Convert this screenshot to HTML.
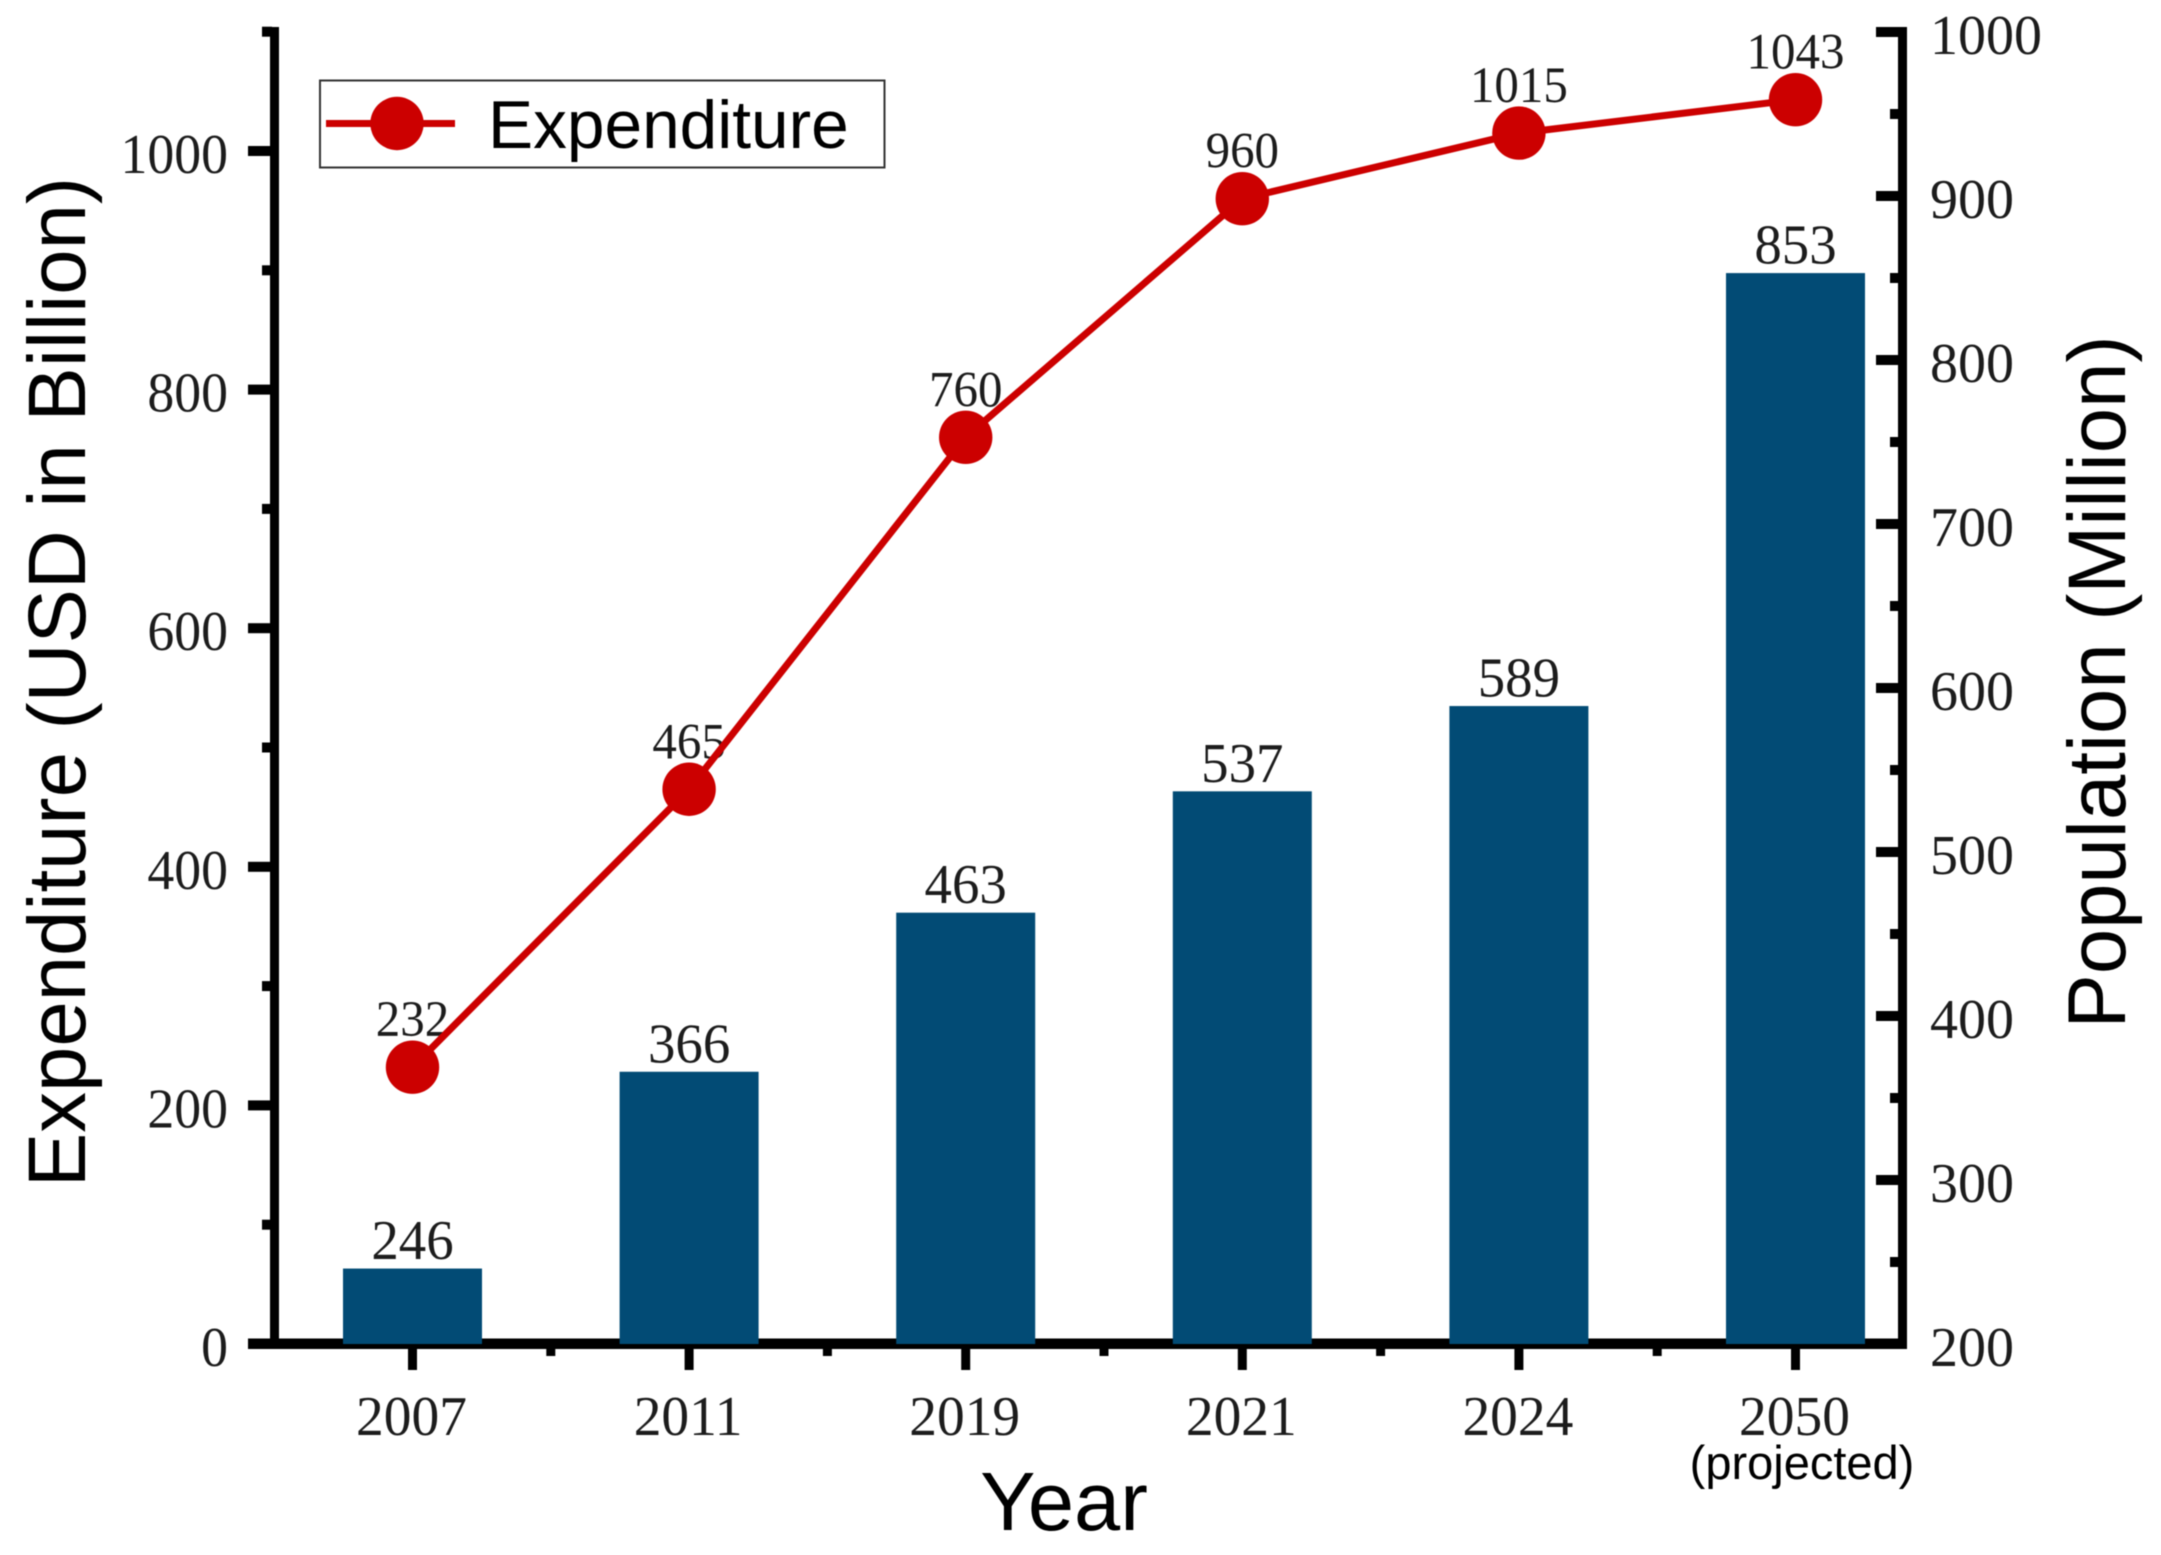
<!DOCTYPE html>
<html lang="en">
<head>
<meta charset="utf-8">
<title>Expenditure and Population</title>
<style>
html,body{margin:0;padding:0;background:#fff;width:2161px;height:1555px;overflow:hidden}
svg{display:block;filter:blur(0.5px)}
.sans{font-family:"Liberation Sans",Arial,sans-serif;fill:#000}
.serif{font-family:"Liberation Serif","Times New Roman",serif;fill:#1c1c1c}
</style>
</head>
<body>
<svg id="chart" xmlns="http://www.w3.org/2000/svg" width="2161" height="1555" viewBox="0 0 2161 1555">
  <rect x="0" y="0" width="2161" height="1555" fill="#fff"/>
  <g id="axes"></g>
  <g id="bars"></g>
  <g id="labels"></g>
  <g id="line"></g>
  <text class="sans" font-size="81.5" text-anchor="middle" transform="translate(85,682) rotate(-90)">Expenditure (USD in Billion)</text>
  <text class="sans" font-size="81.5" text-anchor="middle" transform="translate(2125,682) rotate(-90)">Population (Million)</text>
  <text class="sans" font-size="83" text-anchor="middle" x="1064" y="1530">Year</text>
  <text class="sans" font-size="47" text-anchor="middle" x="1802" y="1479">(projected)</text>
  <g>
    <rect x="320" y="80.5" width="564.5" height="87" fill="#fff" stroke="#333" stroke-width="2"/>
    <line x1="326" y1="123.5" x2="455" y2="123.5" stroke="#cc0000" stroke-width="7"/>
    <circle cx="397" cy="123.5" r="26.7" fill="#cc0000"/>
    <text class="sans" font-size="67.6" x="488" y="148">Expenditure</text>
  </g>
</svg>
<script>
const categories = ['2007', '2011', '2019', '2021', '2024', '2050'];
const population = [246, 366, 463, 537, 589, 853];
const expenditure = [232, 465, 760, 960, 1015, 1043];
const leftTicks = [0, 200, 400, 600, 800, 1000];
const leftMinorTicks = [100, 300, 500, 700, 900, 1100];
const rightTicks = [200, 300, 400, 500, 600, 700, 800, 900, 1000];
const rightMinorTicks = [250, 350, 450, 550, 650, 750, 850, 950];

const NS = 'http://www.w3.org/2000/svg';
const axesG = document.getElementById('axes');
const barsG = document.getElementById('bars');
const labelsG = document.getElementById('labels');
const lineG = document.getElementById('line');

const BASE_Y = 1344;
function xPos(i) { return 412.5 + i * 276.6; }
function yLeft(v) { return BASE_Y - v * 1.193; }
function yRight(v) { return BASE_Y - (v - 200) * 1.64; }

function makeRect(parent, x, y, w, h, fill) {
  const r = document.createElementNS(NS, 'rect');
  r.setAttribute('x', x);
  r.setAttribute('y', y);
  r.setAttribute('width', w);
  r.setAttribute('height', h);
  r.setAttribute('fill', fill);
  parent.appendChild(r);
  return r;
}
function makeText(parent, str, x, y, size, anchor, sx) {
  const t = document.createElementNS(NS, 'text');
  t.setAttribute('class', 'serif');
  t.setAttribute('font-size', size);
  t.setAttribute('text-anchor', anchor);
  t.setAttribute('transform', 'translate(' + x + ',' + y + ') scale(' + sx + ',1)');
  t.textContent = str;
  parent.appendChild(t);
  return t;
}

// axis spines
const leftSpine = makeRect(axesG, 270, 27, 9, 1322, '#000');


const rightSpine = makeRect(axesG, 1898, 27, 9, 1322, '#000');


const bottomSpine = makeRect(axesG, 248, 1338.5, 1659, 10.5, '#000');



// left axis ticks
leftTicks.forEach(function (v) {
  const y = yLeft(v);
  const tick = makeRect(axesG, 248, y - 5, 24, 10, '#000');
  
  
  const label = makeText(axesG, String(v), 228, y + 22, 56, 'end', 0.96);
  
  
});
leftMinorTicks.forEach(function (v) {
  const y = yLeft(v);
  const tick = makeRect(axesG, 262, y - 5, 10, 10, '#000');
  
  
});

// right axis ticks
rightTicks.forEach(function (v) {
  const y = yRight(v);
  const tick = makeRect(axesG, 1876, y - 5, 24, 10, '#000');
  
  
  const label = makeText(axesG, String(v), 1930, y + 22, 56, 'start', 1.0);
  
  
});
rightMinorTicks.forEach(function (v) {
  const y = yRight(v);
  const tick = makeRect(axesG, 1890, y - 5, 10, 10, '#000');
  
  
});

// x axis ticks
categories.forEach(function (c, i) {
  const x = xPos(i);
  const tick = makeRect(axesG, x - 4.5, 1345, 9, 25, '#000');
  
  
  const label = makeText(axesG, c, x - 1, 1435, 56, 'middle', 0.99);
  
  
  if (i < categories.length - 1) {
    const minor = makeRect(axesG, x + 138.3 - 4.5, 1345, 9, 11, '#000');
    
    
  }
});

// bars
population.forEach(function (v, i) {
  const top = yRight(v);
  const bar = makeRect(barsG, xPos(i) - 69.5, top, 139, BASE_Y - top, '#024b75');
  
  
  const label = makeText(labelsG, String(v), xPos(i), top - 9.5, 56, 'middle', 0.98);
  
  
});

// expenditure labels
expenditure.forEach(function (v, i) {
  const label = makeText(labelsG, String(v), xPos(i), yLeft(v) - 31, 51, 'middle', 0.96);
  
  
});

// expenditure line and markers
const polyline = document.createElementNS(NS, 'polyline');


polyline.setAttribute('fill', 'none');
polyline.setAttribute('stroke', '#cc0000');
polyline.setAttribute('stroke-width', '7');
polyline.setAttribute('points', expenditure.map(function (v, i) { return xPos(i) + ',' + yLeft(v); }).join(' '));
lineG.appendChild(polyline);
expenditure.forEach(function (v, i) {
  const dot = document.createElementNS(NS, 'circle');
  
  
  dot.setAttribute('cx', xPos(i));
  dot.setAttribute('cy', yLeft(v));
  dot.setAttribute('r', 26.7);
  dot.setAttribute('fill', '#cc0000');
  lineG.appendChild(dot);
});
</script>
</body>
</html>
